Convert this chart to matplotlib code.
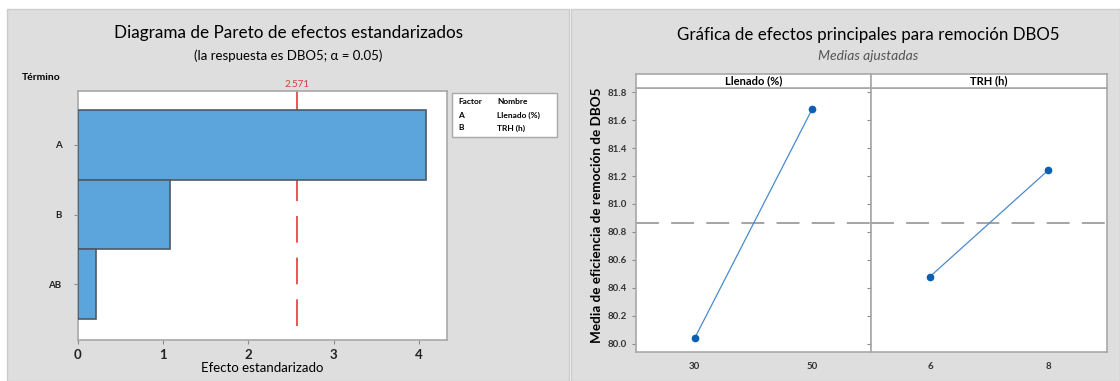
import matplotlib
matplotlib.use('Agg')
import matplotlib.pyplot as plt
from matplotlib.patches import Rectangle

plt.rcParams['font.family'] = ['Lato', 'DejaVu Sans']

# ---- datos: Pareto ----
terminos = ['A', 'B', 'AB']
efectos = [4.08, 1.08, 0.21]
limite_t = 2.571
factores = ['A', 'B']
nombres = ['Llenado (%)', 'TRH (h)']

# ---- datos: efectos principales ----
llenado_x = [30, 50]
llenado_y = [80.04, 81.68]
trh_x = [6, 8]
trh_y = [80.48, 81.24]
media_global = 80.86
y_ticks = [80.0, 80.2, 80.4, 80.6, 80.8, 81.0, 81.2, 81.4, 81.6, 81.8]

W, H = 1120, 381
GRIS = '#dedede'
BORDE = '#a8a8a8'


def box(x0, y0, x1, y1):
    """pixeles -> coordenadas de figura"""
    return [x0 / W, 1 - y1 / H, (x1 - x0) / W, (y1 - y0) / H]


def fx(x):
    return x / W


def fy(y):
    return 1 - y / H


fig = plt.figure(figsize=(W / 100, H / 100), dpi=100)
fig.patch.set_facecolor('white')

# ---- paneles grises ----
for x0, x1 in [(7, 569), (571, 1120)]:
    fig.patches.append(Rectangle((fx(x0), 0), fx(x1) - fx(x0), fy(9), transform=fig.transFigure,
                                 facecolor=GRIS, edgecolor='#cccccc', lw=1, zorder=-10))

# ---- Pareto ----
fig.text(fx(288), fy(33), 'Diagrama de Pareto de efectos estandarizados', ha='center', va='center', fontsize=12.3)
fig.text(fx(288), fy(56), '(la respuesta es DBO5; α = 0.05)', ha='center', va='center', fontsize=9.5)
fig.text(fx(22), fy(78), 'Término', ha='left', va='center', fontsize=7.5, fontweight='bold')

ax = fig.add_axes(box(78, 91, 447, 340))
pos = list(range(len(terminos)))
ax.barh(pos, efectos, height=1.0, left=0, color='#5ca5dc', edgecolor='#4d5a66', linewidth=1.2, zorder=3)
# linea desde arriba hacia abajo para que el primer trazo quede arriba
ax.axvline(limite_t, ymin=1, ymax=0, color='#e8373c', lw=1.2, dashes=(16, 9), zorder=2)
ax.text(limite_t, -0.80, '%.3f' % limite_t, color='#d63a3f', ha='center', va='bottom', fontsize=7,
        transform=ax.transData, clip_on=False)
ax.set_xlim(0, 4.33)
ax.set_ylim(2.8, -0.775)
ax.set_yticks(pos)
ax.set_yticklabels(terminos, fontsize=7, fontweight='bold')
ax.set_xticks([0, 1, 2, 3, 4])
ax.set_xticklabels(['0', '1', '2', '3', '4'], fontsize=9.5, fontweight='bold')
ax.set_xlabel('Efecto estandarizado', fontsize=9.5, labelpad=1)
ax.tick_params(colors='#8a8a8a', labelcolor='#222222', length=3, width=0.8)
ax.tick_params(axis='y', pad=9)
for s in ax.spines.values():
    s.set_color(BORDE)
    s.set_linewidth(1.2)

# ---- leyenda de factores ----
fig.patches.append(Rectangle((fx(452), fy(137)), fx(557) - fx(452), fy(93) - fy(137), transform=fig.transFigure,
                             facecolor='white', edgecolor=BORDE, lw=1, zorder=1))
fig.text(fx(458), fy(101), 'Factor', fontsize=6, fontweight='bold', va='center')
fig.text(fx(497), fy(101), 'Nombre', fontsize=6, fontweight='bold', va='center')
for i, (f, n) in enumerate(zip(factores, nombres)):
    fig.text(fx(458), fy(115 + 13 * i), f, fontsize=6, fontweight='bold', va='center')
    fig.text(fx(497), fy(115 + 13 * i), n, fontsize=6, fontweight='bold', va='center')

# ---- efectos principales ----
fig.text(fx(868), fy(35), 'Gráfica de efectos principales para remoción DBO5', ha='center', va='center', fontsize=12.2)
fig.text(fx(868), fy(56), 'Medias ajustadas', ha='center', va='center', fontsize=10, style='italic', color='#555555')
fig.text(fx(597), fy(215), 'Media de eficiencia de remoción de DBO5', rotation=90, ha='center', va='center',
         fontsize=9.7, fontweight='bold')

paneles = [('Llenado (%)', llenado_x, llenado_y, (20, 60), (636, 871)),
           ('TRH (h)', trh_x, trh_y, (5, 9), (871, 1107))]
for k, (nombre, xs, ys, xl, (x0, x1)) in enumerate(paneles):
    a = fig.add_axes(box(x0, 88, x1, 352))
    a.axhline(media_global, color='#8c8c8c', lw=1.1, dashes=(15, 8), zorder=1)
    a.plot(xs, ys, color='#4a8ad0', lw=0.9, zorder=2)
    a.plot(xs, ys, 'o', color='#0b5fb0', ms=4.5, zorder=3)
    a.set_xlim(*xl)
    a.set_ylim(79.94, 81.83)
    a.set_xticks(xs)
    a.set_xticklabels([str(v) for v in xs], fontsize=7, fontweight='bold')
    a.set_yticks(y_ticks)
    if k == 0:
        a.set_yticklabels(['%.1f' % v for v in y_ticks], fontsize=7, fontweight='bold')
    else:
        a.set_yticklabels([])
        a.tick_params(axis='y', length=0)
    a.tick_params(colors='#8a8a8a', labelcolor='#333333', length=3, width=0.8)
    a.tick_params(axis='x', length=0, pad=7)
    for s in a.spines.values():
        s.set_color(BORDE)
        s.set_linewidth(1.2)
    # ---- franja ----
    st = fig.add_axes(box(x0, 74, x1, 88))
    st.set_xticks([])
    st.set_yticks([])
    st.set_facecolor('white')
    for s in st.spines.values():
        s.set_color(BORDE)
        s.set_linewidth(1.2)
    st.text(0.5, 0.5, nombre, ha='center', va='center', fontsize=8, fontweight='bold', transform=st.transAxes)

fig.savefig('out.png', dpi=100)
